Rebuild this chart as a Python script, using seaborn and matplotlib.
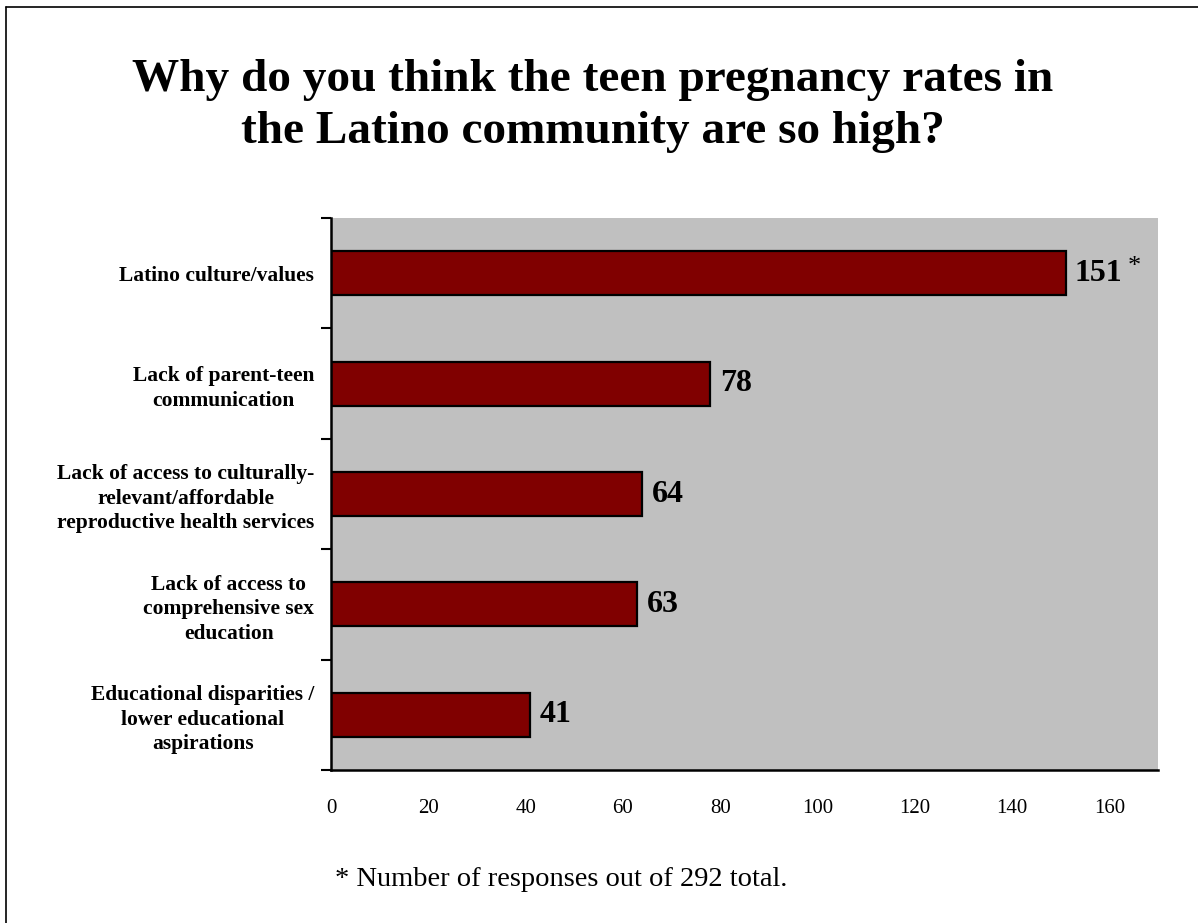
import matplotlib
matplotlib.use("Agg")
import matplotlib.pyplot as plt
import seaborn as sns
import pandas as pd
from matplotlib.lines import Line2D

categories = [
    "Latino culture/values",
    "Lack of parent-teen\ncommunication",
    "Lack of access to culturally-\nrelevant/affordable\nreproductive health services",
    "Lack of access to\ncomprehensive sex\neducation",
    "Educational disparities /\nlower educational\naspirations",
]
values = [151, 78, 64, 63, 41]
x_ticks = [0, 20, 40, 60, 80, 100, 120, 140, 160]
title = "Why do you think the teen pregnancy rates in\nthe Latino community are so high?"
footnote = "* Number of responses out of 292 total."

sns.set_theme(style="white")
plt.rcParams['font.family'] = ['Liberation Serif', 'DejaVu Serif']
plt.rcParams['text.color'] = 'black'
plt.rcParams['xtick.color'] = 'black'
plt.rcParams['ytick.color'] = 'black'
plt.rcParams['axes.labelcolor'] = 'black'

df = pd.DataFrame({"category": categories, "value": values})

fig = plt.figure(figsize=(11.98, 9.23), dpi=100)
ax = fig.add_axes([331/1198, 1-770/923, (1158-331)/1198, (770-218)/923])
ax.set_facecolor("#c0c0c0")

sns.barplot(data=df, y="category", x="value", orient="h", color="#800000",
            edgecolor="black", linewidth=1.6, width=0.4, saturation=1, ax=ax)

ax.set_xlim(0, 170)
ax.set_ylim(len(categories) - 0.5, -0.5)
ax.set_xlabel("")
ax.set_ylabel("")

for s in ["top", "right"]:
    ax.spines[s].set_visible(False)
for s in ["left", "bottom"]:
    ax.spines[s].set_color("black")
    ax.spines[s].set_linewidth(1.8)

# x ticks
ax.set_xticks(x_ticks)
ax.set_xticklabels([str(t) for t in x_ticks], fontsize=15)
ax.tick_params(axis="x", direction="out", length=7, width=1.5, color="black", pad=14)

# y ticks: major at boundaries (no labels), minor at centres (labels)
n = len(categories)
ax.set_yticks([i - 0.5 for i in range(n + 1)])
ax.set_yticklabels([""] * (n + 1))
ax.set_yticks(list(range(n)), minor=True)
ax.set_yticklabels(categories, minor=True, fontsize=15.5, fontweight="bold",
                   linespacing=1.3, ha="right", multialignment="center")
ax.tick_params(axis="y", which="major", direction="out", length=7, width=1.5,
               color="black", left=True)
ax.tick_params(axis="y", which="minor", length=0, pad=12)

# value labels
for i, v in enumerate(values):
    ax.text(v + 1.9, i, str(v), va="center", ha="left", fontsize=23,
            fontweight="bold", color="black")
ax.text(163.8, -0.06, "*", va="center", ha="left", fontsize=19, color="black")

fig.text(592.5/1198, 1 - 106/923, title, ha="center", va="center", fontsize=34,
         fontweight="bold", linespacing=1.32)
fig.text(335/1198, 1 - 880/923, footnote, ha="left", va="center", fontsize=20.5)

# border lines (top and left)
fig.add_artist(Line2D([6/1198, 6/1198], [0, 1 - 7/923], transform=fig.transFigure,
                      color="black", linewidth=1.2))
fig.add_artist(Line2D([6/1198, 1], [1 - 7/923, 1 - 7/923], transform=fig.transFigure,
                      color="black", linewidth=1.2))

fig.savefig("out.png", dpi=100)
